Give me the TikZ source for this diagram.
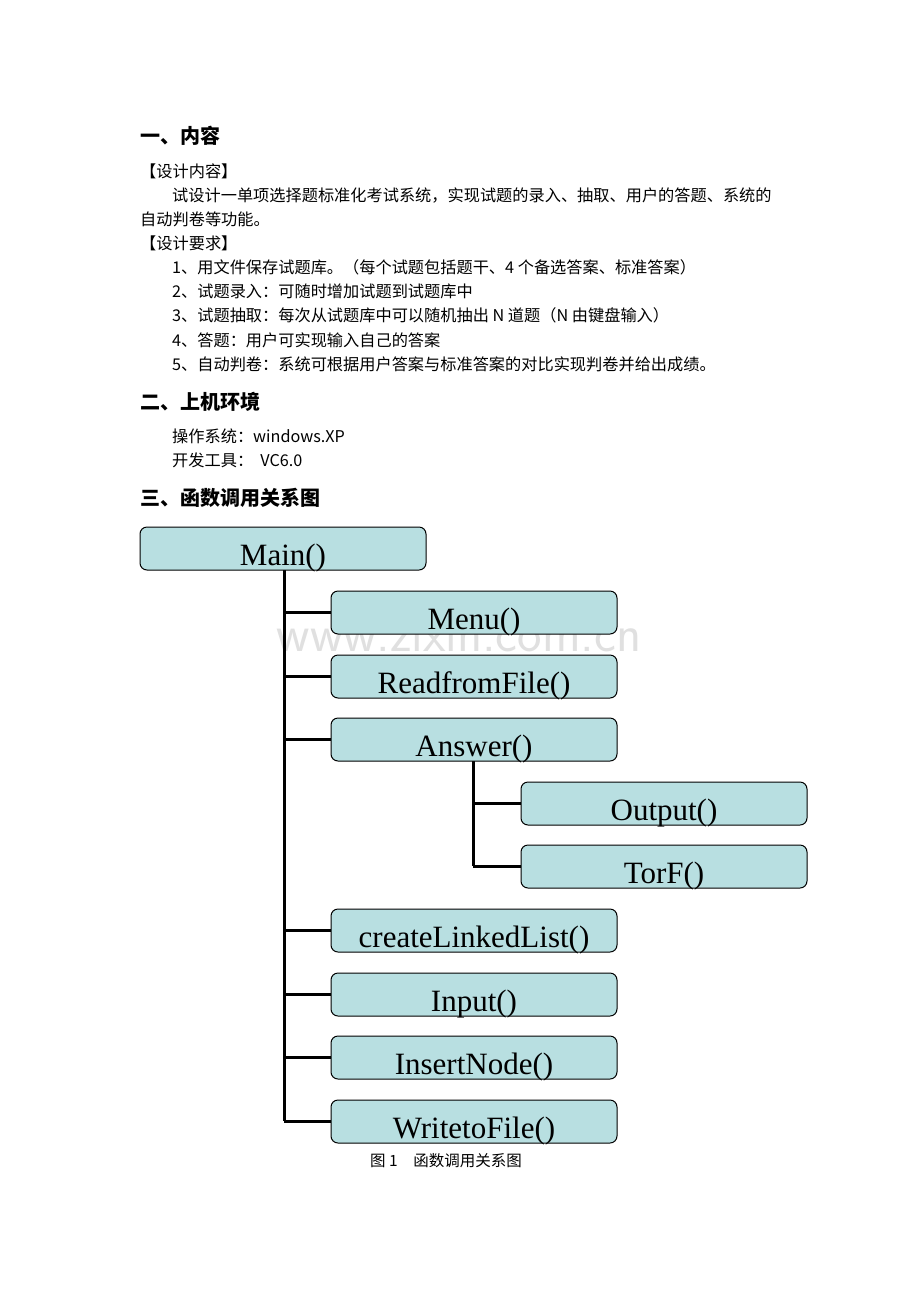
\documentclass[tikz,border=0pt]{standalone}
\usepackage{fontspec}
\setmainfont{Liberation Serif}
\newfontfamily\cjk{Noto Sans CJK SC}
\begin{document}
\begin{tikzpicture}[x=1pt,y=-1pt,
  fbox/.style={draw=black,line width=1pt,fill=boxc,rounded corners=7pt},
  ftxt/.style={anchor=base,font=\fontsize{31}{31}\selectfont},
  body/.style={anchor=base west,inner sep=0,font=\fontsize{16.2}{17}\selectfont\cjk},
  head/.style={anchor=base west,inner sep=0,font=\fontsize{20}{20}\selectfont\cjk\bfseries},
  link/.style={line width=3pt}]
\definecolor{boxc}{HTML}{B8DFE1}
\useasboundingbox (0,0) rectangle (920,1302);
\fill[white] (0,0) rectangle (920,1302);
\node[head] (h1) at (140,143) {一、内容};
\node[body] (t1) at (140,177) {【设计内容】};
\node[body] (t2) at (172,201) {试设计一单项选择题标准化考试系统，实现试题的录入、抽取、用户的答题、系统的};
\node[body] (t3) at (140,225) {自动判卷等功能。};
\node[body] (t4) at (140,249) {【设计要求】};
\node[body] (t5) at (172,273) {1、用文件保存试题库。（每个试题包括题干、4 个备选答案、标准答案）};
\node[body] (t6) at (172,297) {2、试题录入：可随时增加试题到试题库中};
\node[body] (t7) at (172,321) {3、试题抽取：每次从试题库中可以随机抽出 N 道题（N 由键盘输入）};
\node[body] (t8) at (172,346) {4、答题：用户可实现输入自己的答案};
\node[body] (t9) at (172,370) {5、自动判卷：系统可根据用户答案与标准答案的对比实现判卷并给出成绩。};
\node[head] (h2) at (140,409) {二、上机环境};
\node[body] (t10) at (172,442) {操作系统：windows.XP};
\node[body] (t11) at (172,466) {开发工具：\ \ VC6.0};
\node[head] (h3) at (140,505) {三、函数调用关系图};
\node[text=black!12,font=\fontsize{52}{52}\selectfont\sffamily] (wm) at (459,635) {www.zixin.com.cn};
\def\bx#1#2#3#4#5{\draw[fbox] (#2,#3) rectangle (#2+286,#3+43);
  \node[ftxt] (#1) at (#2+143,#3+38) {#5};}
\draw[link] (284,570) -- (284,1121);
\draw[link] (473,760) -- (473,866);
\foreach \yy in {612,676,739,930,994,1057,1121} \draw[link] (284,\yy) -- (331,\yy);
\foreach \yy in {803,866} \draw[link] (473,\yy) -- (521,\yy);
\bx{main}{140}{527}{0}{Main()}
\bx{menu}{331}{591}{0}{Menu()}
\bx{read}{331}{655}{0}{ReadfromFile()}
\bx{ans}{331}{718}{0}{Answer()}
\bx{out}{521}{782}{0}{Output()}
\bx{torf}{521}{845}{0}{TorF()}
\bx{cll}{331}{909}{0}{createLinkedList()}
\bx{inp}{331}{973}{0}{Input()}
\bx{ins}{331}{1036}{0}{InsertNode()}
\bx{wtf}{331}{1100}{0}{WritetoFile()}
\node[anchor=base,font=\fontsize{15.5}{15}\selectfont\cjk] (cap) at (446,1166) {图 1\quad 函数调用关系图};
\end{tikzpicture}
\end{document}
